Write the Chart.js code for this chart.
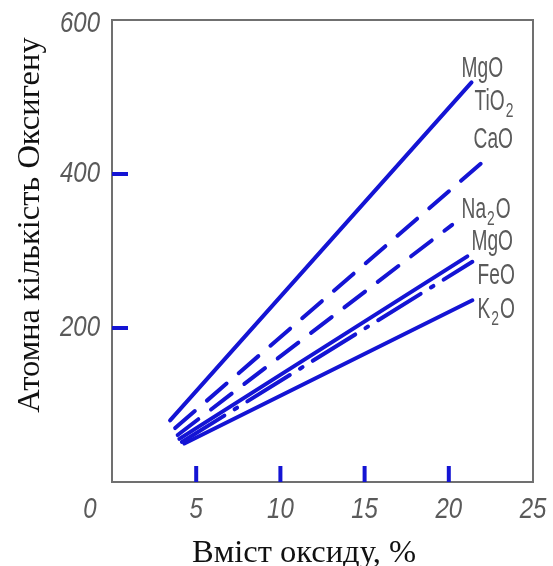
<!DOCTYPE html>
<html>
<head>
<meta charset="utf-8">
<script src="https://cdn.jsdelivr.net/npm/chart.js@4"></script>
<style>
  body { margin: 0; background: #fff; }
  #wrap { width: 553px; height: 566px; }
</style>
</head>
<body>
<div id="wrap"><canvas id="chart" width="553" height="566"></canvas></div>
<script>
// Oxide lines, start and end points
const oxides = ['MgO', 'CaO', 'Na2O', 'MgO', 'FeO', 'K2O'];
const xStart = [3.45, 3.75, 3.9, 4.0, 4.15, 4.3];
const yStart = [80, 70, 61, 56, 52, 50];
const xEnd = [21.35, 22.3, 20.2, 21.1, 21.4, 21.4];
const yEnd = [519, 421, 334, 293, 286, 236];

// Axes
const xTicks = [0, 5, 10, 15, 20, 25];
const yTicks = [200, 400, 600];
const xMarks = [5, 10, 15, 20];
const yMarks = [200, 400];

// Names written at the right ends of the lines
const labelNames = ['MgO', 'TiO2', 'CaO', 'Na2O', 'MgO', 'FeO', 'K2O'];

const BLUE = '#1414d4';
const lineDash = [[], [26, 16], [26, 16], [], [50, 12, 3, 12], []];
// where each name sits (data units: left edge, middle)
const labelSpots = [
  [20.76, 539], [21.53, 496], [21.47, 447], [20.76, 356],
  [21.35, 314], [21.71, 270], [21.71, 226]
];

function scaledText(ctx, text, x, y, sx) {
  ctx.save();
  ctx.translate(x, y);
  ctx.scale(sx, 1);
  ctx.fillText(text, 0, 0);
  ctx.restore();
}

// name with numbers as subscripts, e.g. TiO2
function oxideText(ctx, name, x, cy) {
  const sx = 0.66;
  const base = cy + 10;
  let cur = x;
  ctx.textAlign = 'left';
  ctx.textBaseline = 'alphabetic';
  name.match(/\d+|\D+/g).forEach(part => {
    const sub = /\d/.test(part);
    ctx.font = sub ? '21px "Liberation Sans"' : '29px "Liberation Sans"';
    scaledText(ctx, part, cur, sub ? base + 7 : base, sx);
    cur += ctx.measureText(part).width * sx + 1;
  });
}

const decor = {
  id: 'decor',
  beforeDatasetsDraw(chart) {
    const { ctx, chartArea: a, scales: { x, y } } = chart;
    ctx.save();
    // frame
    ctx.strokeStyle = '#707070';
    ctx.lineWidth = 2;
    ctx.strokeRect(a.left, a.top, a.right - a.left, a.bottom - a.top);
    // short blue marks inside the frame
    ctx.strokeStyle = BLUE;
    ctx.lineWidth = 4;
    xMarks.forEach(v => {
      const px = x.getPixelForValue(v);
      ctx.beginPath();
      ctx.moveTo(px, a.bottom);
      ctx.lineTo(px, a.bottom - 16);
      ctx.stroke();
    });
    yMarks.forEach(v => {
      const py = y.getPixelForValue(v);
      ctx.beginPath();
      ctx.moveTo(a.left, py);
      ctx.lineTo(a.left + 16, py);
      ctx.stroke();
    });
    ctx.restore();
  },
  afterDraw(chart) {
    const { ctx, chartArea: a, scales: { x, y } } = chart;
    ctx.save();
    // tick numbers
    ctx.fillStyle = '#5a5a5a';
    ctx.font = 'italic 30px "Liberation Sans"';
    ctx.textBaseline = 'middle';
    ctx.textAlign = 'center';
    xTicks.forEach(v => {
      const px = x.getPixelForValue(v) - (v === 0 ? 22 : 0);
      scaledText(ctx, String(v), px, a.bottom + 28, 0.8);
    });
    ctx.textAlign = 'right';
    yTicks.forEach(v => {
      const py = Math.max(y.getPixelForValue(v), a.top + 4);
      scaledText(ctx, String(v), a.left - 12, py, 0.8);
    });

    // oxide names
    ctx.fillStyle = '#5a5a5a';
    labelNames.forEach((n, i) => {
      oxideText(ctx, n, x.getPixelForValue(labelSpots[i][0]), y.getPixelForValue(labelSpots[i][1]));
    });

    // axis titles
    ctx.fillStyle = '#111';
    ctx.font = '32.5px "Liberation Serif"';
    ctx.textAlign = 'center';
    ctx.textBaseline = 'alphabetic';
    ctx.fillText('Вміст оксиду, %', 304, 562);
    ctx.translate(39, 225);
    ctx.rotate(-Math.PI / 2);
    ctx.fillText('Атомна кількість Оксигену', 0, 0);
    ctx.restore();
  }
};

new Chart(document.getElementById('chart'), {
  type: 'scatter',
  data: {
    datasets: oxides.map((name, i) => ({
      label: name,
      data: [{ x: xStart[i], y: yStart[i] }, { x: xEnd[i], y: yEnd[i] }],
      showLine: true,
      borderColor: BLUE,
      borderWidth: 4,
      borderDash: lineDash[i],
      borderCapStyle: 'round',
      pointRadius: 0,
      fill: false
    }))
  },
  options: {
    responsive: false,
    animation: false,
    layout: { padding: { left: 112, right: 20, top: 20, bottom: 84 } },
    plugins: { legend: { display: false }, tooltip: { enabled: false } },
    scales: {
      x: { type: 'linear', min: 0, max: 25, display: false },
      y: { type: 'linear', min: 0, max: 600, display: false }
    }
  },
  plugins: [decor]
});
</script>
</body>
</html>
